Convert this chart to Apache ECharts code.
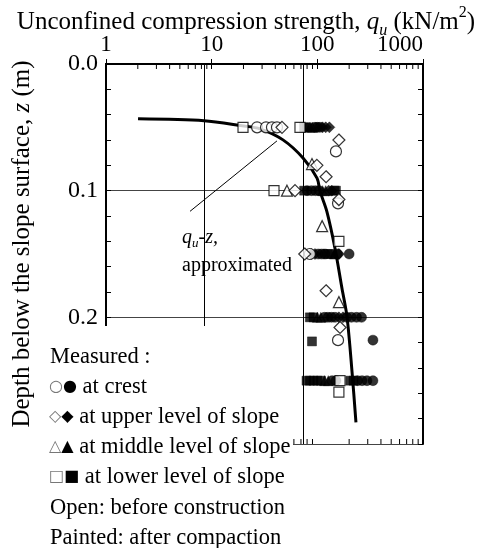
<!DOCTYPE html>
<html><head><meta charset="utf-8">
<script src="https://cdn.jsdelivr.net/npm/echarts@6/dist/echarts.min.js"></script>
<style>html,body{margin:0;padding:0;background:#fff}#c{width:489px;height:548px}</style>
</head><body><div id="c"></div>
<script>
const FONT = '"Liberation Serif", "Times New Roman", serif';
const yTickLabels = ['0.0', '0.1', '0.2', ''];
const xTickLabels = {1:'1', 10:'10', 100:'100', 1000:'1000'};
const minorTickQu = [2,3,4,5,6,7,8,9,20,30,40,50,60,70,80,90,200,300,400,500,600,700,800,900];
const gridLineQu = [8.5, 73];
const curveQu = [2.01, 8.46, 19.4, 28.7, 47.3, 73.2, 99.3, 106, 123, 147, 171, 191, 213, 232];
const curveZ  = [0.0433, 0.0448, 0.0488, 0.0512, 0.0599, 0.0742, 0.0901, 0.1004, 0.1163, 0.1456, 0.177, 0.1996, 0.243, 0.283];
const leaderQu = [6.24, 41.5];
const leaderZ = [0.1163, 0.0607];

// [qu, z]
const crestOpen = [[26.9,0.05],[32.7,0.05],[37.2,0.05],[41.5,0.05],[150,0.069],[157,0.110],[85,0.15],[157,0.218]];
const crestFilled = [[95,0.05],[100,0.05],[106,0.05],[80,0.1],[88,0.1],[96,0.1],[104,0.1],[102,0.15],[110,0.15],[118,0.15],[155,0.15],[200,0.15],
  [117,0.2],[126,0.2],[136,0.2],[147,0.2],[190,0.2],[210,0.2],[235,0.2],[262,0.2],[336,0.218],[138,0.25],[150,0.25],[240,0.25],[265,0.25],[295,0.25],[336,0.25]];
const upperOpen = [[46.3,0.05],[160,0.06],[99,0.080],[121,0.089],[61.5,0.1],[160,0.107],[76,0.15],[121,0.179],[164,0.208]];
const upperFilled = [[112,0.05],[120,0.05],[130,0.05],[128,0.1],[137,0.1],[88,0.15],[95,0.15],[160,0.15],[160,0.2],[175,0.2]];
const middleOpen = [[89,0.079],[51.6,0.1],[111,0.128],[160,0.188]];
const middleFilled = [[85,0.05],[90,0.05],[112,0.1],[120,0.1],[145,0.15],[100,0.2],[108,0.2],[117,0.25],[127,0.25]];
const lowerOpen = [[19.8,0.05],[68.5,0.05],[38.9,0.1],[160,0.14],[164,0.25],[160,0.259]];
const lowerFilled = [[75,0.05],[80,0.05],[75,0.1],[145,0.1],[150,0.1],[126,0.15],[135,0.15],[85,0.2],[92,0.2],[89,0.219],
  [79,0.25],[85,0.25],[92,0.25],[100,0.25],[108,0.25],[205,0.25],[220,0.25]];

const chart = echarts.init(document.getElementById('c'));
const openStyle = {color:'#fff', borderColor:'#000', borderWidth:1.2};
const fillStyle = {color:'#000', borderColor:'#000', borderWidth:0.5};
function sc(data, symbol, size, style, z){
  return {type:'scatter', data, symbol, symbolSize:size, itemStyle:style, z, silent:true, xAxisIndex:0, yAxisIndex:0};
}
const axisCommon = {
  type:'log', logBase:10, min:1, max:1000,
  axisLine:{show:true, lineStyle:{color:'#000', width:2}},
  axisTick:{show:true, inside:true, length:5, lineStyle:{color:'#000'}},
  splitLine:{show:false}
};
const yCommon = {
  type:'value', inverse:true, min:0, max:0.3, interval:0.1,
  axisLine:{show:true, lineStyle:{color:'#000', width:2}},
  axisTick:{show:true, inside:true, length:5, lineStyle:{color:'#000'}},
  minorTick:{show:true, splitNumber:5, length:5, lineStyle:{color:'#000'}}
};
const legRich = {
  o:{fontFamily:'DejaVu Sans', fontSize:16, fill:'#777'},
  f:{fontFamily:'DejaVu Sans', fontSize:16, fill:'#000'},
  t:{fontFamily:FONT, fontSize:22.5, fill:'#000'}
};
chart.setOption({
  animation:false,
  backgroundColor:'#fff',
  grid:{left:106, right:66, top:64, bottom:104},
  xAxis:[
    Object.assign({}, axisCommon, {position:'top',
      axisLabel:{show:true, color:'#000', fontFamily:FONT, fontSize:23, margin:8, alignMaxLabel:'right',
        formatter:v=>xTickLabels[Math.round(v)] ?? String(v)}}),
    Object.assign({}, axisCommon, {position:'bottom', axisLabel:{show:false}})
  ],
  yAxis:[
    Object.assign({}, yCommon, {position:'left',
      splitLine:{show:true, lineStyle:{color:'#444', width:1}},
      axisLabel:{show:true, color:'#000', fontFamily:FONT, fontSize:24, margin:8,
        formatter:(v,i)=>yTickLabels[i] ?? ''}}),
    Object.assign({}, yCommon, {position:'right', splitLine:{show:false}, axisLabel:{show:false}})
  ],
  series:[
    {type:'custom', xAxisIndex:0, yAxisIndex:0, silent:true, clip:false, z:3,
      data:minorTickQu.map(v=>[v,0]),
      renderItem(params, api){
        const t = api.coord([api.value(0), 0]);
        const b = api.coord([api.value(0), 0.3]);
        return {type:'group', children:[
          {type:'line', shape:{x1:t[0], y1:t[1], x2:t[0], y2:t[1]+5}, style:{stroke:'#000', lineWidth:1}},
          {type:'line', shape:{x1:b[0], y1:b[1], x2:b[0], y2:b[1]-5}, style:{stroke:'#000', lineWidth:1}}
        ]};
      }},
    {type:'line', data:leaderQu.map((v,i)=>[v, leaderZ[i]]), symbol:'none', silent:true,
      lineStyle:{color:'#000', width:1}, z:2,
      markLine:{silent:true, symbol:'none', label:{show:false},
        lineStyle:{color:'#000', width:1, type:'solid'},
        data:gridLineQu.map(v=>({xAxis:v}))}},
    {type:'line', data:curveQu.map((v,i)=>[v, curveZ[i]]), symbol:'none', smooth:0.3, silent:true,
      lineStyle:{color:'#000', width:3}, z:3},
    sc(lowerFilled, 'rect', 9, fillStyle, 4),
    sc(middleFilled, 'triangle', 10, fillStyle, 4),
    sc(crestFilled, 'circle', 10, fillStyle, 4),
    sc(upperFilled, 'diamond', 11, fillStyle, 4),
    sc(lowerOpen, 'rect', 10, openStyle, 5),
    sc(middleOpen, 'triangle', 11, openStyle, 5),
    sc(crestOpen, 'circle', 11, openStyle, 5),
    sc(upperOpen, 'diamond', 12, openStyle, 5)
  ],
  graphic:[
    {type:'text', z:100, x:246, y:22, style:{
      text:'{n|Unconfined compression strength, }{i|q}{sub|u}{n| (kN/m}{sup|2}{n|)}',
      textAlign:'center', textVerticalAlign:'middle', fill:'#000',
      rich:{
        n:{fontFamily:FONT, fontSize:25, lineHeight:28, fill:'#000'},
        i:{fontFamily:FONT, fontSize:25, fontStyle:'italic', lineHeight:28, fill:'#000'},
        sub:{fontFamily:FONT, fontSize:16, fontStyle:'italic', lineHeight:20, verticalAlign:'bottom', fill:'#000'},
        sup:{fontFamily:FONT, fontSize:16, lineHeight:34, verticalAlign:'top', fill:'#000'}
      }}},
    {type:'text', z:100, x:22, y:244, rotation:Math.PI/2, style:{
      text:'{n|Depth below the slope surface, }{i|z}{n| (m)}',
      textAlign:'center', textVerticalAlign:'middle',
      rich:{
        n:{fontFamily:FONT, fontSize:25, fill:'#000'},
        i:{fontFamily:FONT, fontSize:25, fontStyle:'italic', fill:'#000'}
      }}},
    {type:'text', z:100, x:182, y:238, style:{
      text:'{i|q}{sub|u}{i|-z,}', textVerticalAlign:'middle',
      rich:{
        i:{fontFamily:FONT, fontSize:20, fontStyle:'italic', lineHeight:24, fill:'#000'},
        sub:{fontFamily:FONT, fontSize:13, fontStyle:'italic', lineHeight:16, verticalAlign:'bottom', fill:'#000'}
      }}},
    {type:'text', z:100, x:182, y:266, style:{text:'approximated', fontFamily:FONT, fontSize:20, fill:'#000', textVerticalAlign:'middle'}},
    {type:'rect', z:100, shape:{x:40, y:326, width:253, height:222}, style:{fill:'#fff'}},
    {type:'group', z:101, children:[
      {type:'text', z:101, x:50, y:357, style:{text:'Measured :', fontFamily:FONT, fontSize:22.5, fill:'#000', textVerticalAlign:'middle'}},
      {type:'text', z:101, x:49, y:387, style:{text:'{o|○}{f|●}{t| at crest}', textVerticalAlign:'middle', rich:legRich}},
      {type:'text', z:101, x:49, y:417, style:{text:'{o|◇}{f|◆}{t| at upper level of slope}', textVerticalAlign:'middle', rich:legRich}},
      {type:'text', z:101, x:49, y:447, style:{text:'{o|△}{f|▲}{t| at middle level of slope}', textVerticalAlign:'middle', rich:legRich}},
      {type:'text', z:101, x:49, y:477, style:{text:'{o|□}{f|■}{t| at lower level of slope}', textVerticalAlign:'middle', rich:legRich}},
      {type:'text', z:101, x:50, y:508, style:{text:'Open: before construction', fontFamily:FONT, fontSize:22.5, fill:'#000', textVerticalAlign:'middle'}},
      {type:'text', z:101, x:50, y:538, style:{text:'Painted: after compaction', fontFamily:FONT, fontSize:22.5, fill:'#000', textVerticalAlign:'middle'}}
    ]}
  ]
});
</script>
</body></html>
